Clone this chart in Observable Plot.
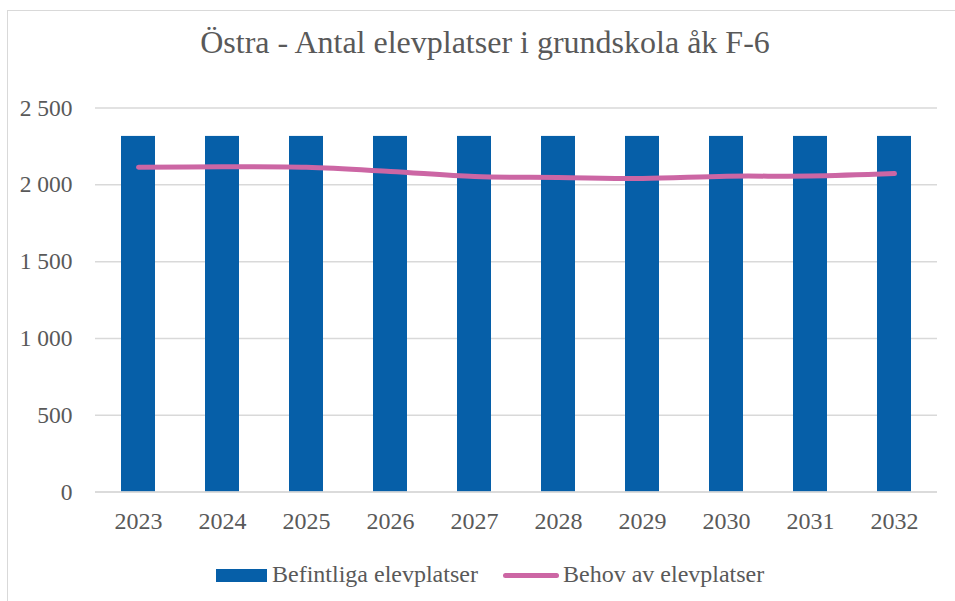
<!DOCTYPE html>
<html>
<head>
<meta charset="utf-8">
<script src="https://cdn.jsdelivr.net/npm/d3@7"></script>
<script src="https://cdn.jsdelivr.net/npm/@observablehq/plot@0.6"></script>
<style>
  html, body { margin: 0; padding: 0; background: #fff; overflow: hidden; }
  body { width: 955px; height: 601px; position: relative; font-family: "Liberation Serif", "Times New Roman", serif; color: #595959; }
  #frame { position: absolute; left: 7px; top: 10px; width: 970px; height: 620px; border: 1.5px solid #d9d9d9; box-sizing: border-box; }
  #title { position: absolute; left: 0; width: 970px; top: 22px; text-align: center; font-size: 32px; line-height: 40px; white-space: nowrap; }
  #chart { position: absolute; left: 0; top: 0; }
  .leg { position: absolute; font-size: 24px; line-height: 26px; white-space: nowrap; top: 561px; }
  .sw1 { position: absolute; left: 216px; top: 569px; width: 51px; height: 13px; background: #065FA8; }
  .sw2 { position: absolute; left: 503px; top: 573px; width: 56px; height: 5px; background: #CC66A4; border-radius: 3px; }
</style>
</head>
<body>
<div id="frame"></div>
<div id="chart"></div>
<div id="title">Östra - Antal elevplatser i grundskola åk F-6</div>
<div class="sw1"></div>
<div class="leg" id="l1" style="left:272px">Befintliga elevplatser</div>
<div class="sw2"></div>
<div class="leg" id="l2" style="left:563px">Behov av elevplatser</div>
<script>
const years = ["2023","2024","2025","2026","2027","2028","2029","2030","2031","2032"];
const befintliga = [2315,2315,2315,2315,2315,2315,2315,2315,2315,2315];
const behov = [2115,2117,2114,2087,2054,2048,2041,2056,2057,2073];
const yTicks = [0,500,1000,1500,2000,2500];

const data = years.map((y, i) => ({year: y, bef: befintliga[i], beh: behov[i]}));
const fmt = v => v >= 1000 ? d3.format(",")(v).replace(",", "\u00a0") : String(v);

const chart = Plot.plot({
  width: 955,
  height: 540,
  marginLeft: 95,
  marginRight: 18,
  marginTop: 107.5,
  marginBottom: 48.4,
  style: {fontFamily: "'Liberation Serif', 'Times New Roman', serif", color: "#595959", background: "transparent", overflow: "visible"},
  x: {domain: years, paddingInner: 0.6, paddingOuter: 0.3, label: null},
  y: {domain: [0, 2500], label: null},
  marks: [
    Plot.gridY(yTicks, {stroke: "#d9d9d9", strokeOpacity: 1, strokeWidth: 1.5}),
    Plot.barY(data, {x: "year", y: "bef", fill: "#065FA8"}),
    Plot.ruleY([0], {stroke: "#d9d9d9", strokeWidth: 1.5}),
    Plot.line(data, {x: "year", y: "beh", stroke: "#CC66A4", strokeWidth: 5, strokeLinecap: "round", strokeLinejoin: "round", curve: "catmull-rom"}),
    Plot.axisY(yTicks, {tickSize: 0, tickPadding: 23, tickFormat: fmt, fontSize: 23.5, fill: "#595959"}),
    Plot.axisX({tickSize: 0, tickPadding: 20, fontSize: 24, fill: "#595959"})
  ]
});
document.getElementById("chart").appendChild(chart);
</script>
</body>
</html>
